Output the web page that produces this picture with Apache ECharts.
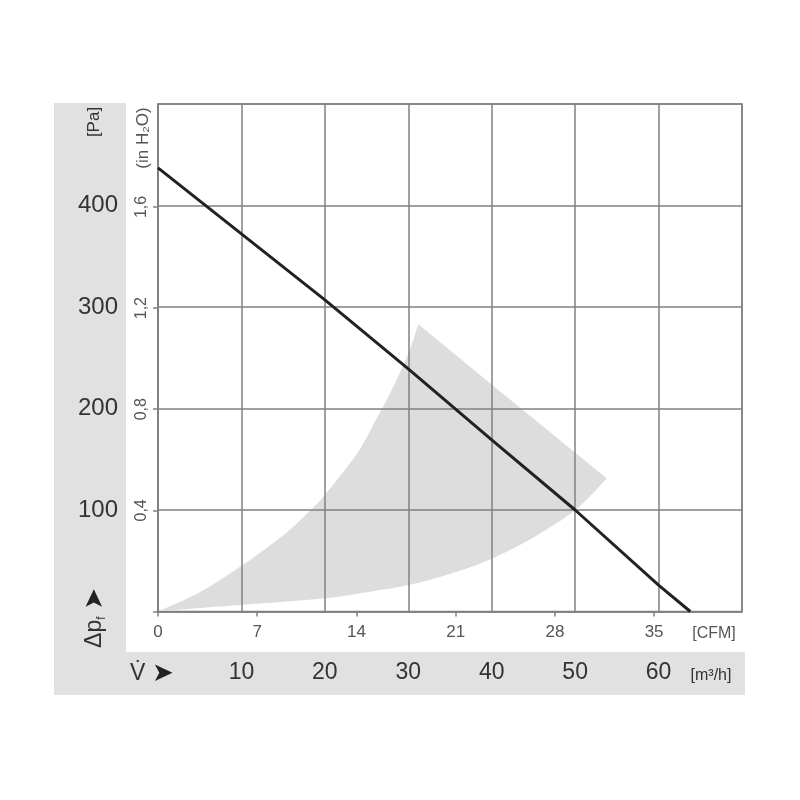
<!DOCTYPE html>
<html>
<head>
<meta charset="utf-8">
<script src="https://cdn.jsdelivr.net/npm/echarts@6/dist/echarts.min.js"></script>
<style>html,body{margin:0;padding:0;background:#fff}#c{width:800px;height:800px}</style>
</head>
<body>
<div id="c"></div>
<script>
// Fan characteristic curve: volume flow [m3/h] vs static pressure [Pa]
const curveFlow = [0, 10, 20, 30, 40, 50, 60, 63.8];
const curvePa   = [437, 372, 307, 239, 169, 100, 26, 0];

// Recommended operating range (grey region), three boundary pieces
const upperLeftFlow  = [0, 5, 10, 15, 18.3, 20, 23.8, 26.2, 28, 30, 31.2];
const upperLeftPa    = [0, 19, 45, 75, 100, 115, 155, 190, 218, 254, 283];
const upperRightFlow = [31.2, 40.1, 53.8];
const upperRightPa   = [283, 223, 131];
const lowerFlow      = [53.8, 50, 45, 40, 35, 30, 25, 20, 10, 5, 0];
const lowerPa        = [131, 100, 73, 52, 37, 26, 19, 13, 6.5, 3.5, 0];

// Axis ranges / ticks
const flowTicks = [10, 20, 30, 40, 50, 60];
const paTicks = [100, 200, 300, 400];
const inH2OTicks = [0, 0.4, 0.8, 1.2, 1.6];
const cfmTicks = [0, 7, 14, 21, 28, 35];
const flowMax = 70, paMax = 500;
const M3H_PER_CFM = 1.69901;
const PA_PER_INH2O = 249.089;

const FONT = 'Liberation Sans, Arial, sans-serif';
const chart = echarts.init(document.getElementById('c'), null, {renderer: 'canvas'});

function smoothPts(pts) {
  // Catmull-Rom spline through pixel points, sampled for drawing
  const out = [pts[0]];
  const N = 12;
  for (let i = 0; i < pts.length - 1; i++) {
    const p0 = pts[i - 1] || pts[i], p1 = pts[i], p2 = pts[i + 1], p3 = pts[i + 2] || pts[i + 1];
    const c1 = [p1[0] + (p2[0] - p0[0]) / 6, p1[1] + (p2[1] - p0[1]) / 6];
    const c2 = [p2[0] - (p3[0] - p1[0]) / 6, p2[1] - (p3[1] - p1[1]) / 6];
    for (let k = 1; k <= N; k++) {
      const t = k / N, u = 1 - t;
      const b0 = u * u * u, b1 = 3 * u * u * t, b2 = 3 * u * t * t, b3 = t * t * t;
      out.push([b0 * p1[0] + b1 * c1[0] + b2 * c2[0] + b3 * p2[0],
                b0 * p1[1] + b1 * c1[1] + b2 * c2[1] + b3 * p2[1]]);
    }
  }
  return out;
}

const gridColor = '#808080';
chart.setOption({
  animation: false,
  backgroundColor: '#fff',
  grid: {left: 158, top: 104, right: 58, bottom: 188.5, show: true, borderColor: gridColor, borderWidth: 1.5, backgroundColor: 'transparent'},
  graphic: [
    {type: 'rect', z: -10, shape: {x: 54, y: 103, width: 72, height: 592}, style: {fill: '#e1e1e1'}},
    {type: 'rect', z: -10, shape: {x: 54, y: 652, width: 691, height: 43}, style: {fill: '#e1e1e1'}},
    {type: 'text', x: 94, y: 122, rotation: Math.PI / 2,
      style: {text: '[Pa]', font: '17px ' + FONT, fill: '#333', align: 'center', verticalAlign: 'middle'}},
    {type: 'text', x: 143, y: 138, rotation: Math.PI / 2,
      style: {text: '(in H₂O)', font: '17px ' + FONT, fill: '#555', align: 'center', verticalAlign: 'middle'}},
    {type: 'text', x: 95, y: 618, rotation: Math.PI / 2,
      style: {text: '{a|Δp}{s|f}  {b|➤}', align: 'center', verticalAlign: 'middle',
        rich: {a: {fontSize: 23, fontFamily: FONT, fill: '#333'}, s: {fontSize: 12, fontFamily: FONT, fill: '#333', verticalAlign: 'bottom'}, b: {fontSize: 26, fontFamily: 'DejaVu Sans', fill: '#222'}}}},
    {type: 'text', x: 152, y: 674,
      style: {text: '{a|V̇}  {b|➤}', align: 'center', verticalAlign: 'middle',
        rich: {a: {fontSize: 23, fontFamily: FONT, fill: '#333'}, b: {fontSize: 26, fontFamily: 'DejaVu Sans', fill: '#222'}}}},
    {type: 'text', x: 711, y: 676,
      style: {text: '[m³/h]', font: '16px ' + FONT, fill: '#333', align: 'center', verticalAlign: 'middle'}},
    {type: 'text', x: 714, y: 634,
      style: {text: '[CFM]', font: '16px ' + FONT, fill: '#555', align: 'center', verticalAlign: 'middle'}}
  ],
  xAxis: [
    {type: 'value', position: 'bottom', min: 0, max: flowMax, interval: 10, z: 3,
      axisLine: {show: true, lineStyle: {color: gridColor, width: 1.5}},
      axisTick: {show: false},
      splitLine: {show: true, lineStyle: {color: gridColor, width: 1.5}},
      axisLabel: {margin: 50, fontSize: 23, fontFamily: FONT, color: '#333',
        formatter: v => flowTicks.includes(v) ? String(v) : ''}},
    {type: 'value', position: 'bottom', min: 0, max: flowMax / M3H_PER_CFM, interval: 7, z: 3,
      axisLine: {show: false},
      axisTick: {show: true, length: 5, lineStyle: {color: gridColor, width: 1.5}},
      splitLine: {show: false},
      axisLabel: {margin: 12, fontSize: 17, fontFamily: FONT, color: '#555', showMaxLabel: false,
        formatter: v => cfmTicks.includes(v) ? String(v) : ''}}
  ],
  yAxis: [
    {type: 'value', position: 'left', min: 0, max: paMax, interval: 100, z: 3,
      axisLine: {show: true, lineStyle: {color: gridColor, width: 1.5}},
      axisTick: {show: false},
      splitLine: {show: true, lineStyle: {color: gridColor, width: 1.5}},
      axisLabel: {margin: 40, fontSize: 24, fontFamily: FONT, color: '#333',
        formatter: v => paTicks.includes(v) ? String(v) : ''}},
    {type: 'value', position: 'left', min: 0, max: paMax / PA_PER_INH2O, z: 3,
      axisLine: {show: false},
      axisTick: {show: true, length: 5, customValues: inH2OTicks, lineStyle: {color: gridColor, width: 1.5}},
      splitLine: {show: false},
      axisLabel: {margin: 8, rotate: 90, fontSize: 16, fontFamily: FONT, color: '#555', customValues: inH2OTicks,
        formatter: v => v === 0 ? '' : v.toFixed(1).replace('.', ',')}}
  ],
  series: [
    {type: 'custom', xAxisIndex: 0, yAxisIndex: 0, z: 1, silent: true,
      data: [[0, 0]],
      renderItem: (params, api) => {
        const ul = upperLeftFlow.map((f, i) => api.coord([f, upperLeftPa[i]]));
        const ur = upperRightFlow.map((f, i) => api.coord([f, upperRightPa[i]]));
        const lo = lowerFlow.map((f, i) => api.coord([f, lowerPa[i]]));
        const pts = smoothPts(ul).concat(ur.slice(1, -1), smoothPts(lo));
        return {type: 'polygon', shape: {points: pts}, style: {fill: '#dddddd'}};
      }},
    {type: 'line', xAxisIndex: 0, yAxisIndex: 0, z: 5, showSymbol: false, silent: true,
      data: curveFlow.map((f, i) => [f, curvePa[i]]),
      lineStyle: {color: '#222', width: 3}}
  ]
});
</script>
</body>
</html>
